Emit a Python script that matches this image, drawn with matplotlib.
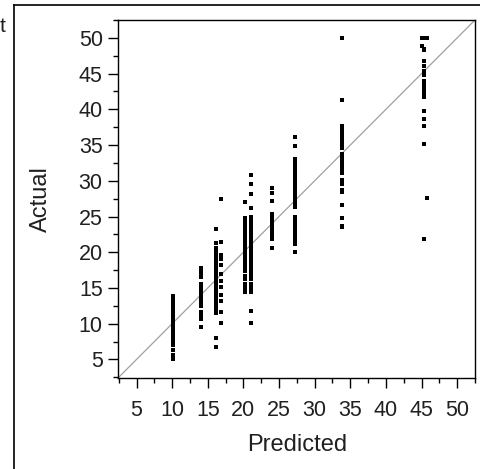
import matplotlib
matplotlib.use("Agg")
import matplotlib.pyplot as plt
from matplotlib.lines import Line2D

plt.rcParams['font.family'] = ['Liberation Sans', 'DejaVu Sans']

# Predicted value of each leaf and the actual responses that fall in it
pred_g1 = 10.1
act_g1 = [13.9, 13.8, 13.6, 13.4, 13.3, 13.1, 12.8, 12.7, 12.5, 12.3, 12.1, 11.9,
          11.8, 11.7, 11.5, 11.3, 11.0, 10.9, 10.8, 10.5, 10.4, 10.2, 10.2, 9.7,
          9.5, 9.4, 9.0, 8.8, 8.7, 8.5, 8.4, 8.3, 8.1, 7.8, 7.5, 7.4, 7.2, 7.0,
          7.0, 6.3, 5.6, 5.0, 5.0]

pred_g2 = 14.1
act_g2 = [17.8, 17.5, 17.2, 16.8, 16.6, 15.6, 15.4, 15.2, 15.0, 14.8, 14.6, 14.5,
          14.4, 14.1, 13.9, 13.8, 13.6, 13.4, 13.3, 13.1, 12.8, 12.7, 12.5, 11.7,
          11.1, 10.6, 9.5]

pred_g3 = 16.2
act_g3 = [23.2, 21.3, 20.6, 20.4, 20.1, 19.9, 19.7, 19.5, 19.4, 19.3, 19.1, 18.9,
          18.8, 18.7, 18.5, 18.4, 18.3, 18.2, 18.0, 17.8, 17.5, 17.4, 17.2, 17.1,
          16.8, 16.7, 16.6, 16.5, 16.2, 16.1, 15.7, 15.6, 15.4, 15.3, 15.2, 15.0,
          14.9, 14.6, 14.5, 14.4, 14.3, 14.1, 13.9, 13.8, 13.5, 13.4, 13.3, 13.1,
          12.7, 12.5, 11.9, 11.5, 8.0, 6.8]

pred_g4 = 16.8
act_g4 = [27.4, 21.5, 19.6, 19.0, 18.2, 17.0, 16.0, 15.1, 14.0, 13.2, 11.7, 10.1]

pred_g5 = 20.2
act_g5 = [27.1, 24.8, 24.6, 24.4, 24.1, 23.9, 23.7, 23.4, 23.2, 23.1, 22.9, 22.6,
          22.5, 22.2, 22.0, 21.7, 21.4, 21.2, 20.9, 20.6, 20.4, 20.3, 20.1, 19.8,
          19.6, 19.4, 19.3, 19.1, 18.9, 18.7, 18.5, 18.4, 18.2, 17.8, 17.4, 16.7,
          16.4, 16.2, 15.6, 15.2, 14.8, 14.4]

pred_g6 = 21.1
act_g6 = [30.8, 29.6, 28.1, 26.2, 25.0, 24.8, 24.6, 24.4, 24.2, 24.0, 23.8, 23.6,
          23.3, 23.1, 23.0, 22.8, 22.6, 22.5, 22.2, 22.0, 21.8, 21.7, 21.4, 21.2,
          21.0, 20.8, 20.6, 20.4, 20.3, 20.1, 19.9, 19.7, 19.5, 19.4, 19.2, 19.0,
          18.8, 18.6, 18.5, 18.3, 18.2, 17.8, 17.5, 17.2, 16.8, 16.6, 16.2, 15.6,
          15.2, 14.8, 14.4, 11.8, 10.1]

pred_g7 = 24.0
act_g7 = [29.0, 28.3, 27.2, 25.3, 25.1, 25.0, 24.8, 24.7, 24.5, 24.4, 24.3, 24.1,
          24.0, 23.9, 23.8, 23.6, 23.4, 23.3, 23.1, 23.0, 22.9, 22.7, 22.5, 22.2,
          22.0, 21.8, 20.6]

pred_g8 = 27.3
act_g8 = [36.1, 34.9, 33.1, 32.9, 32.7, 32.5, 32.4, 32.2, 32.0, 31.7, 31.6, 31.5,
          31.2, 31.0, 30.8, 30.7, 30.5, 30.3, 30.1, 29.9, 29.8, 29.6, 29.4, 29.1,
          29.0, 28.7, 28.6, 28.4, 28.2, 28.0, 27.9, 27.5, 27.1, 26.7, 26.6, 26.5,
          26.4, 25.0, 24.8, 24.7, 24.4, 24.3, 24.1, 23.9, 23.7, 23.2, 23.1, 22.8,
          22.6, 22.2, 22.0, 21.7, 21.1, 20.1]

pred_g9 = 33.8
act_g9 = [50.0, 41.3, 37.6, 37.3, 37.2, 36.9, 36.5, 36.4, 36.2, 36.0, 35.4, 35.2,
          34.9, 34.9, 34.7, 34.6, 33.8, 33.4, 33.3, 33.2, 33.1, 33.0, 32.9, 32.7,
          32.5, 32.4, 32.2, 32.0, 31.6, 31.5, 31.2, 31.1, 30.1, 29.8, 29.6, 28.7,
          28.4, 26.6, 24.8, 23.7, 23.6]

pred_g10 = 45.0
act_g10 = [50.0, 50.0, 48.8]

pred_g11 = 45.3
act_g11 = [50.0, 48.5, 48.3, 46.7, 46.0, 45.4, 44.8, 44.0, 43.8, 43.5, 43.1, 42.8,
           42.3, 41.7, 39.8, 38.7, 37.6, 35.2, 21.9]

pred_g12 = 45.7
act_g12 = [50.0, 27.6]

groups = [
    (pred_g1, act_g1), (pred_g2, act_g2), (pred_g3, act_g3), (pred_g4, act_g4),
    (pred_g5, act_g5), (pred_g6, act_g6), (pred_g7, act_g7), (pred_g8, act_g8),
    (pred_g9, act_g9), (pred_g10, act_g10), (pred_g11, act_g11), (pred_g12, act_g12),
]

axis_min, axis_max = 2.4, 52.5
ticks = [5, 10, 15, 20, 25, 30, 35, 40, 45, 50]
minor_ticks = [2.5, 7.5, 12.5, 17.5, 22.5, 27.5, 32.5, 37.5, 42.5, 47.5, 52.5]

W, H = 481, 469
fig = plt.figure(figsize=(W / 100, H / 100), dpi=100)
ax = fig.add_axes([118 / W, 1 - 378 / H, (475 - 118) / W, (378 - 20) / H])

# Outer report frame
fig.add_artist(Line2D([14 / W, 14 / W], [0, 1 - 5 / H], transform=fig.transFigure,
                      color='black', lw=1.2))
fig.add_artist(Line2D([14 / W, 1], [1 - 5 / H, 1 - 5 / H], transform=fig.transFigure,
                      color='black', lw=1.2))
fig.text(0 / W, 1 - 26 / H, 't', fontsize=15, va='center', ha='left', color='#202020')

# Identity line
ax.plot([axis_min, axis_max], [axis_min, axis_max], color='#a0a0a0', lw=0.9, zorder=1)

for pred, actual in groups:
    ax.scatter([pred] * len(actual), actual, s=9, marker='s', color='black',
               linewidths=0, zorder=2)

ax.set_xlim(axis_min, axis_max)
ax.set_ylim(axis_min, axis_max)
ax.set_xticks(ticks)
ax.set_yticks(ticks)
ax.set_xticks(minor_ticks, minor=True)
ax.set_yticks(minor_ticks, minor=True)
ax.tick_params(which='major', length=7, width=1.0, labelsize=15.5,
               labelcolor='#202020')
ax.tick_params(which='minor', length=3.5, width=1.0)
ax.tick_params(axis='y', which='major', pad=4)
ax.tick_params(axis='x', which='major', pad=9)
for s in ax.spines.values():
    s.set_linewidth(1.0)

ax.set_xlabel('Predicted', fontsize=17, color='#202020')
ax.set_ylabel('Actual', fontsize=17, color='#202020')
ax.xaxis.set_label_coords((297 - 118) / (475 - 118), -(445 - 378) / (378 - 20),
                          transform=ax.transAxes)
ax.yaxis.set_label_coords(-(118 - 41) / (475 - 118), 0.5, transform=ax.transAxes)
ax.xaxis.label.set_va('center')
ax.yaxis.label.set_va('center')

fig.savefig('out.png', dpi=100)
